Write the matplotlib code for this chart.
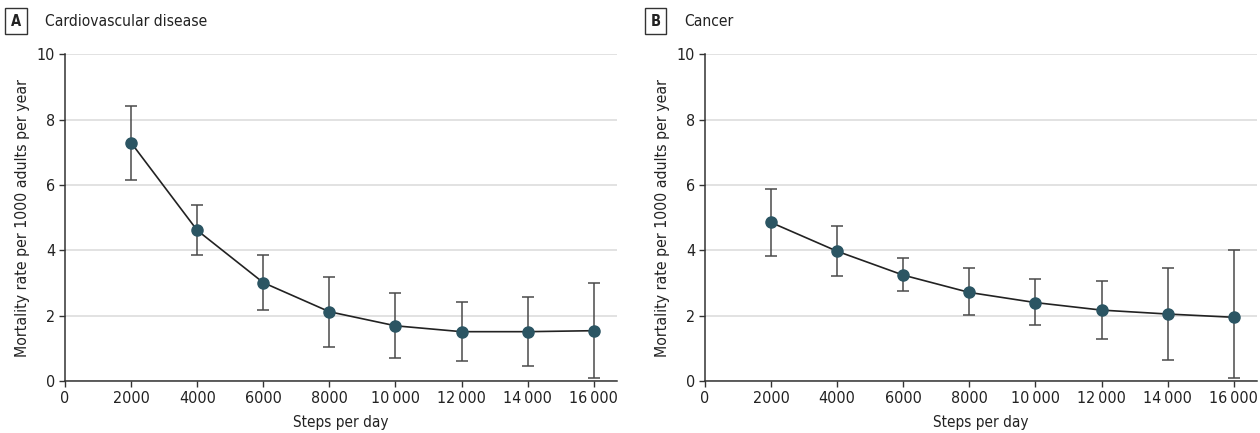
import matplotlib
matplotlib.use('Agg')
import matplotlib.pyplot as plt
from matplotlib.ticker import FuncFormatter

plt.rcParams['font.family'] = ['DejaVu Sans']
plt.rcParams['font.stretch'] = 'condensed'

steps = [2000, 4000, 6000, 8000, 10000, 12000, 14000, 16000]

cvd_rate = [7.29, 4.61, 3.01, 2.12, 1.69, 1.51, 1.51, 1.54]
cvd_low = [6.14, 3.85, 2.18, 1.05, 0.71, 0.60, 0.45, 0.10]
cvd_high = [8.42, 5.37, 3.86, 3.19, 2.68, 2.42, 2.58, 2.99]

cancer_rate = [4.85, 3.97, 3.24, 2.71, 2.40, 2.17, 2.05, 1.95]
cancer_low = [3.83, 3.20, 2.74, 2.03, 1.70, 1.28, 0.64, 0.09]
cancer_high = [5.87, 4.73, 3.77, 3.45, 3.11, 3.07, 3.46, 4.00]

panels = [
    ('A', 'Cardiovascular disease', cvd_rate, cvd_low, cvd_high),
    ('B', 'Cancer', cancer_rate, cancer_low, cancer_high),
]

POINT = '#2b5563'
AXIS = '#333333'
TEXT = '#222222'


def thousands(v, pos):
    v = int(round(v))
    if v >= 10000:
        return f'{v // 1000}\u2009{v % 1000:03d}'
    return str(v)


fig = plt.figure(figsize=(12.6, 4.33), dpi=100)
lefts = [0.0516, 0.5595]
for (letter, title, rate, low, high), left in zip(panels, lefts):
    ax = fig.add_axes([left, 0.120, 0.438, 0.755])
    yerr = [[r - l for r, l in zip(rate, low)], [h - r for r, h in zip(rate, high)]]
    ax.errorbar(steps, rate, yerr=yerr, fmt='none', ecolor='#4a4a4a',
                elinewidth=1.1, capsize=4, capthick=1.1, zorder=2)
    ax.plot(steps, rate, color=TEXT, lw=1.2, zorder=3)
    ax.plot(steps, rate, 'o', color=POINT, ms=8, zorder=4)

    ax.set_xlim(0, 16700)
    ax.set_ylim(0, 10)
    ax.set_xticks(range(0, 16001, 2000))
    ax.set_yticks(range(0, 11, 2))
    ax.xaxis.set_major_formatter(FuncFormatter(thousands))
    ax.yaxis.grid(True, color='#dddddd', lw=1.2)
    ax.set_axisbelow(True)
    for s in ['top', 'right']:
        ax.spines[s].set_visible(False)
    for s in ['left', 'bottom']:
        ax.spines[s].set_color(AXIS)
        ax.spines[s].set_linewidth(1.1)
    ax.tick_params(colors=AXIS, labelcolor=TEXT, labelsize=11.5,
                   length=4, width=1, pad=3)
    ax.set_xlabel('Steps per day', fontsize=11, color=TEXT, labelpad=7)
    ax.set_ylabel('Mortality rate per 1000 adults per year', fontsize=11.3,
                  color=TEXT, labelpad=5)

    fx = left - 0.0436
    fig.text(fx + 0.0007, 0.9515, letter, fontsize=10.5, fontweight='bold',
             ha='left', va='center', color=TEXT,
             bbox=dict(boxstyle='square,pad=0.38', fc='white', ec='#333333', lw=1))
    fig.text(fx + 0.0275, 0.9515, title, fontsize=11.2, ha='left', va='center',
             color=TEXT)

fig.savefig('out.png', dpi=100)
